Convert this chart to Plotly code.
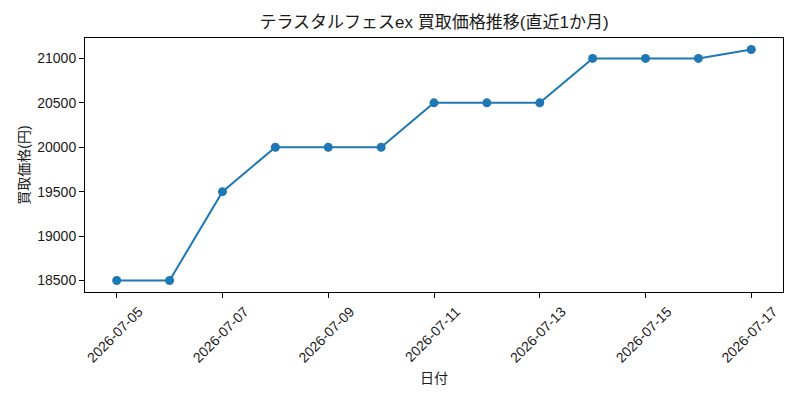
import plotly.graph_objects as go

dates = ["2026-07-05", "2026-07-06", "2026-07-07", "2026-07-08", "2026-07-09",
         "2026-07-10", "2026-07-11", "2026-07-12", "2026-07-13", "2026-07-14",
         "2026-07-15", "2026-07-16", "2026-07-17"]
prices = [18500, 18500, 19500, 20000, 20000, 20000, 20500, 20500, 20500,
          21000, 21000, 21000, 21100]
title = "テラスタルフェスex 買取価格推移(直近1か月)"
xlabel = "日付"
ylabel = "買取価格(円)"

FONT = "Liberation Sans, Noto Sans CJK JP"
TXT = "#1a1a1a"
fig = go.Figure(go.Scatter(
    x=dates, y=prices, mode="lines+markers",
    line=dict(color="#1f77b4", width=2),
    marker=dict(color="#1f77b4", size=9),
))
fig.update_layout(
    width=800, height=400,
    margin=dict(l=85, r=17, t=38, b=108),
    paper_bgcolor="white", plot_bgcolor="white",
    font=dict(family=FONT, size=14, color=TXT),
    title=dict(text=title, x=(85 + 783) / 2 / 800, xref="container", xanchor="center",
               y=1 - 22/400, yanchor="middle",
               font=dict(size=17, color=TXT)),
    showlegend=False,
)
fig.update_xaxes(
    type="date", range=["2026-07-04 09:36", "2026-07-17 14:24"],
    tick0="2026-07-05", dtick=2*86400000, tickformat="%Y-%m-%d",
    tickangle=-45, ticks="outside", ticklen=5, tickcolor="black",
    tickfont=dict(color=TXT),
    showline=True, linecolor="black", linewidth=1, mirror=True,
    showgrid=False, zeroline=False,
    ticklabelshift=22,
    title=dict(text=xlabel, standoff=8, font=dict(size=14, color=TXT)),
)
fig.update_yaxes(
    range=[18370, 21230], tick0=18500, dtick=500, tickformat="d",
    ticks="outside", ticklen=5, tickcolor="black",
    tickfont=dict(color=TXT),
    showline=True, linecolor="black", linewidth=1, mirror=True,
    showgrid=False, zeroline=False,
    title=dict(text=ylabel, standoff=4, font=dict(size=14, color=TXT)),
)
fig.write_html("out.html")
